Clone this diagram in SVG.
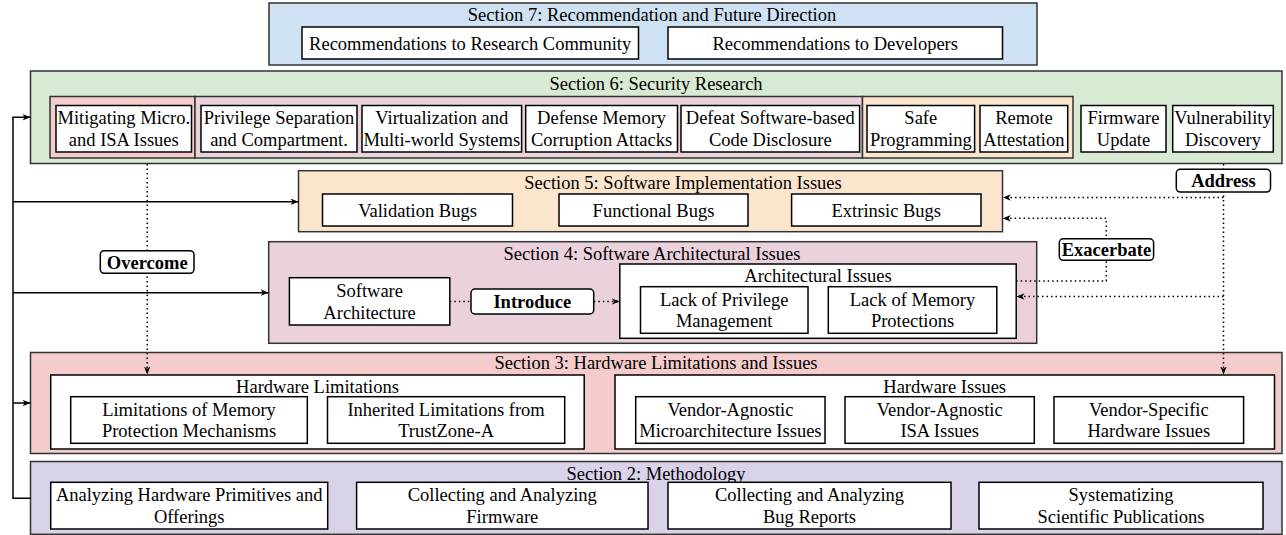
<svg xmlns="http://www.w3.org/2000/svg" width="1286" height="535" viewBox="0 0 1286 535">
<defs>
<style>
.sec{stroke:#333;stroke-width:1.5}
.box{fill:#fff;stroke:#000;stroke-width:1.5}
.lbl{fill:#fff;stroke:#000;stroke-width:1.5}
text{font-family:"Liberation Serif","Times New Roman",serif;font-size:18.5px;fill:#000;text-anchor:middle}
.b{font-weight:bold}
.solid{fill:none;stroke:#000;stroke-width:1.5}
.dot{fill:none;stroke:#000;stroke-width:1.5;stroke-dasharray:1.5 3}
</style>
<marker id="arr" viewBox="0 0 8 8" refX="8" refY="4" markerWidth="8" markerHeight="8" markerUnits="userSpaceOnUse" orient="auto">
<path d="M0,0.8 L8,4 L0,7.2 L2.2,4 z" fill="#000"/>
</marker>
</defs>
<rect width="1286" height="535" fill="#fff"/>

<!-- Section 7 -->
<g id="section7">
<rect class="sec" x="269" y="3" width="768" height="62" fill="#cfe2f3"/>
<text x="652" y="21">Section 7: Recommendation and Future Direction</text>
</g>
<g id="rec-research"><rect class="box" x="302" y="27" width="336.5" height="32"/><text x="470.2" y="50">Recommendations to Research Community</text></g>
<g id="rec-dev"><rect class="box" x="668" y="27" width="334.5" height="32"/><text x="835.2" y="50">Recommendations to Developers</text></g>

<!-- Section 6 -->
<g id="section6">
<rect class="sec" x="30.5" y="71" width="1251.5" height="92.5" fill="#d9ead3"/>
<text x="656" y="90">Section 6: Security Research</text>
<rect class="sec" x="50" y="96.5" width="145" height="61.5" fill="#f4cccc"/>
<rect class="sec" x="195" y="96.5" width="667.5" height="61.5" fill="#ead1dc"/>
<rect class="sec" x="862.5" y="96.5" width="210.5" height="61.5" fill="#fce5cd"/>
</g>
<g id="mitigating"><rect class="box" x="56" y="105.5" width="135.5" height="46.5"/><text x="123.8" y="124.4">Mitigating Micro.</text><text x="123.8" y="146">and ISA Issues</text></g>
<g id="privilege"><rect class="box" x="201" y="105.5" width="156" height="46.5"/><text x="279" y="124.4">Privilege Separation</text><text x="279" y="146">and Compartment.</text></g>
<g id="virtualization"><rect class="box" x="362" y="105.5" width="159.6" height="46.5"/><text x="441.8" y="124.4">Virtualization and</text><text x="441.8" y="146">Multi-world Systems</text></g>
<g id="defense"><rect class="box" x="525.7" y="105.5" width="151.8" height="46.5"/><text x="601.6" y="124.4">Defense Memory</text><text x="601.6" y="146">Corruption Attacks</text></g>
<g id="defeat"><rect class="box" x="681" y="105.5" width="178.6" height="46.5"/><text x="770.3" y="124.4">Defeat Software-based</text><text x="770.3" y="146">Code Disclosure</text></g>
<g id="safe"><rect class="box" x="867" y="105.5" width="107.6" height="46.5"/><text x="920.8" y="124.4">Safe</text><text x="920.8" y="146">Programming</text></g>
<g id="remote"><rect class="box" x="980" y="105.5" width="87.7" height="46.5"/><text x="1023.9" y="124.4">Remote</text><text x="1023.9" y="146">Attestation</text></g>
<g id="firmware"><rect class="box" x="1081" y="105.5" width="85" height="46.5"/><text x="1123.5" y="124.4">Firmware</text><text x="1123.5" y="146">Update</text></g>
<g id="vulnerability"><rect class="box" x="1172.7" y="105.5" width="100.6" height="46.5"/><text x="1223" y="124.4">Vulnerability</text><text x="1223" y="146">Discovery</text></g>

<!-- Section 5 -->
<g id="section5">
<rect class="sec" x="298.5" y="170.7" width="704" height="61" fill="#fce5cd"/>
<text x="683" y="189">Section 5: Software Implementation Issues</text>
</g>
<g id="validation"><rect class="box" x="322.5" y="194" width="190" height="32"/><text x="417.5" y="216.5">Validation Bugs</text></g>
<g id="functional"><rect class="box" x="559" y="194" width="189" height="32"/><text x="653.5" y="216.5">Functional Bugs</text></g>
<g id="extrinsic"><rect class="box" x="791.6" y="194" width="189.4" height="32"/><text x="886.3" y="216.5">Extrinsic Bugs</text></g>

<!-- Section 4 -->
<g id="section4">
<rect class="sec" x="268.7" y="241.7" width="768" height="101.6" fill="#ead1dc"/>
<text x="652" y="260">Section 4: Software Architectural Issues</text>
</g>
<g id="software-architecture"><rect class="box" x="289.4" y="277.7" width="160.4" height="47.3"/><text x="369.6" y="297">Software</text><text x="369.6" y="318.5">Architecture</text></g>
<g id="architectural-issues"><rect class="box" x="619.8" y="264" width="396.4" height="74.3"/><text x="818" y="281.5">Architectural Issues</text></g>
<g id="lack-privilege"><rect class="box" x="640.5" y="286.7" width="167.5" height="46.6"/><text x="724.2" y="305.7">Lack of Privilege</text><text x="724.2" y="327.2">Management</text></g>
<g id="lack-memory"><rect class="box" x="828.3" y="286.7" width="168.5" height="46.6"/><text x="912.5" y="305.7">Lack of Memory</text><text x="912.5" y="327.2">Protections</text></g>

<!-- Section 3 -->
<g id="section3">
<rect class="sec" x="30.5" y="352.5" width="1251.5" height="101" fill="#f4cccc"/>
<text x="656" y="369">Section 3: Hardware Limitations and Issues</text>
</g>
<g id="hardware-limitations"><rect class="box" x="50.7" y="375" width="533.5" height="74"/><text x="317.5" y="393.3">Hardware Limitations</text></g>
<g id="limitations-memory"><rect class="box" x="70.7" y="396.7" width="236.6" height="46.6"/><text x="189" y="415.7">Limitations of Memory</text><text x="189" y="437.2">Protection Mechanisms</text></g>
<g id="inherited"><rect class="box" x="327.5" y="396.7" width="237.2" height="46.6"/><text x="446.1" y="415.7">Inherited Limitations from</text><text x="446.1" y="437.2">TrustZone-A</text></g>
<g id="hardware-issues"><rect class="box" x="615" y="375" width="659.5" height="74"/><text x="944.7" y="393.3">Hardware Issues</text></g>
<g id="va-micro"><rect class="box" x="635.7" y="396.7" width="189.3" height="46.6"/><text x="730.4" y="415.7">Vendor-Agnostic</text><text x="730.4" y="437.2">Microarchitecture Issues</text></g>
<g id="va-isa"><rect class="box" x="845" y="396.7" width="189.3" height="46.6"/><text x="939.7" y="415.7">Vendor-Agnostic</text><text x="939.7" y="437.2">ISA Issues</text></g>
<g id="vs-hardware"><rect class="box" x="1054" y="396.7" width="189.6" height="46.6"/><text x="1148.8" y="415.7">Vendor-Specific</text><text x="1148.8" y="437.2">Hardware Issues</text></g>

<!-- Section 2 -->
<g id="section2">
<rect class="sec" x="30.5" y="461.5" width="1251.5" height="72.8" fill="#d9d2e9"/>
<text x="656" y="479.5">Section 2: Methodology</text>
</g>
<g id="analyzing-hw"><rect class="box" x="50.7" y="482.3" width="277" height="46.7"/><text x="189.2" y="501.4">Analyzing Hardware Primitives and</text><text x="189.2" y="522.9">Offerings</text></g>
<g id="collecting-fw"><rect class="box" x="356.6" y="482.3" width="291.4" height="46.7"/><text x="502.3" y="501.4">Collecting and Analyzing</text><text x="502.3" y="522.9">Firmware</text></g>
<g id="collecting-bugs"><rect class="box" x="668" y="482.3" width="283" height="46.7"/><text x="809.5" y="501.4">Collecting and Analyzing</text><text x="809.5" y="522.9">Bug Reports</text></g>
<g id="systematizing"><rect class="box" x="979" y="482.3" width="284" height="46.7"/><text x="1121" y="501.4">Systematizing</text><text x="1121" y="522.9">Scientific Publications</text></g>

<!-- Connectors -->
<g id="connectors">
<path class="solid" d="M30.5,498.3 H13 V117.3 H30.5" marker-end="url(#arr)"/>
<path class="solid" d="M13,201.7 H298.5" marker-end="url(#arr)"/>
<path class="solid" d="M13,292.7 H268.7" marker-end="url(#arr)"/>
<path class="solid" d="M13,403 H30.5" marker-end="url(#arr)"/>
<path class="dot" d="M147.2,164 V374.5" marker-end="url(#arr)"/>
<path class="dot" d="M1223.5,164 V374.5" marker-end="url(#arr)"/>
<path class="dot" d="M1223.5,197.5 H1002.8" marker-end="url(#arr)"/>
<path class="dot" d="M1223.5,296.5 H1016.5" marker-end="url(#arr)"/>
<path class="dot" d="M1016.2,281 H1106.3 V218.3 H1002.8" marker-end="url(#arr)"/>
<path class="dot" d="M449.8,301.5 H619.8" marker-end="url(#arr)"/>
</g>

<!-- Connector labels -->
<g id="label-overcome"><rect class="lbl" x="100.3" y="250.7" width="93.7" height="22.6" rx="4"/><text class="b" x="147.2" y="268.5">Overcome</text></g>
<g id="label-address"><rect class="lbl" x="1176.3" y="169.3" width="94.2" height="22.8" rx="4"/><text class="b" x="1223.4" y="187.2">Address</text></g>
<g id="label-exacerbate"><rect class="lbl" x="1059.3" y="238.8" width="94.3" height="21.5" rx="4"/><text class="b" x="1106.4" y="256">Exacerbate</text></g>
<g id="label-introduce"><rect class="lbl" x="471" y="289" width="122.7" height="25" rx="4"/><text class="b" x="532.3" y="308">Introduce</text></g>
</svg>
